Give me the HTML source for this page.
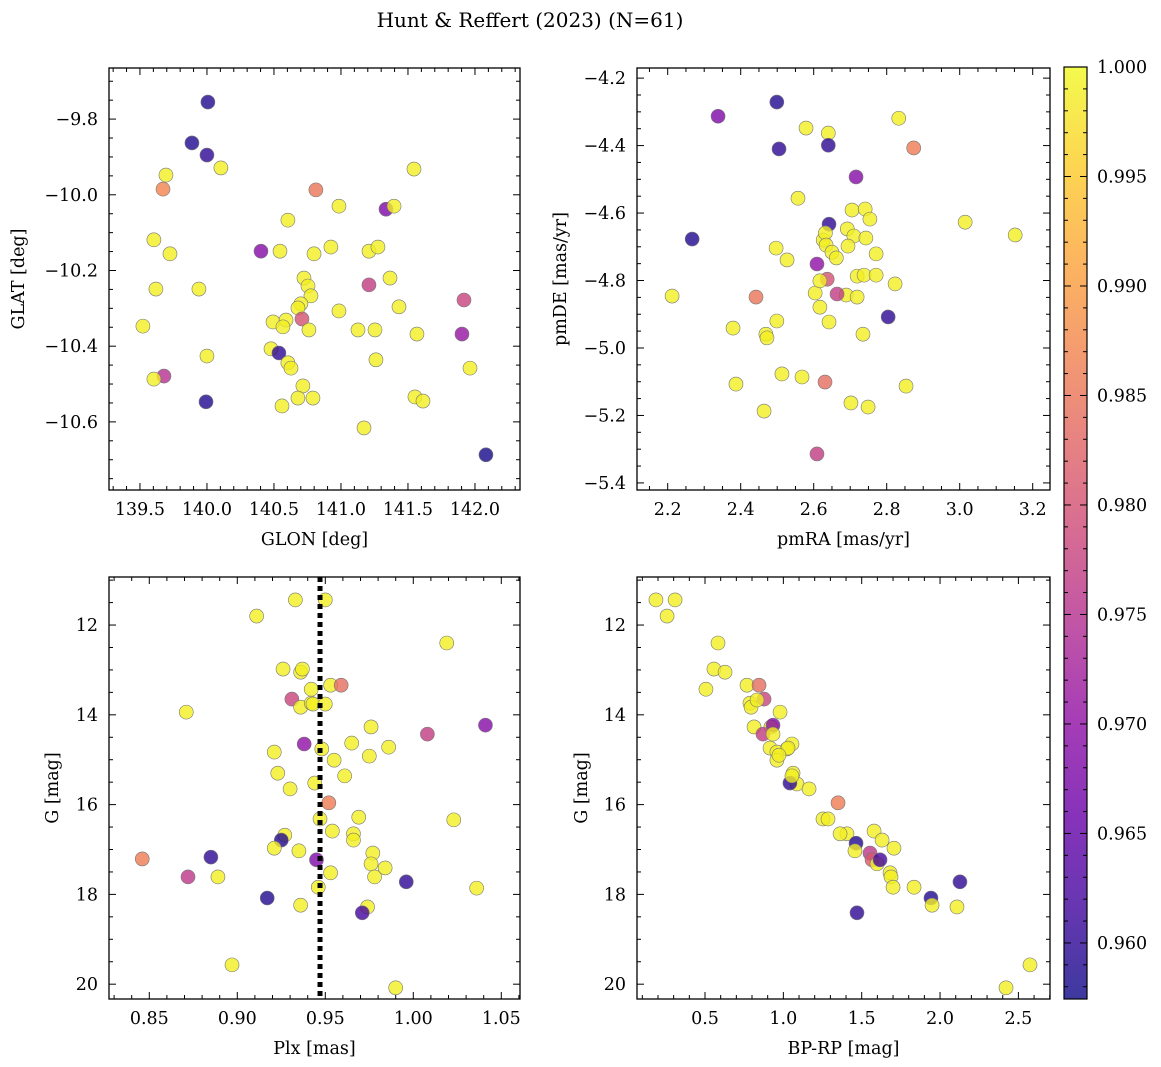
<!DOCTYPE html>
<html><head><meta charset="utf-8"><style>
html,body{margin:0;padding:0;background:#fff;}
svg{display:block;font-family:"DejaVu Serif","Liberation Serif",serif;}
</style></head><body>
<svg id="fig" xmlns="http://www.w3.org/2000/svg" width="1161" height="1067" viewBox="0 0 1161 1067">
<defs>
<linearGradient id="plasma" x1="0" y1="1" x2="0" y2="0">
<stop offset="0" stop-color="#0d0887"/><stop offset="0.1" stop-color="#41049d"/><stop offset="0.2" stop-color="#6a00a8"/><stop offset="0.3" stop-color="#8f0da4"/><stop offset="0.4" stop-color="#b12a90"/><stop offset="0.5" stop-color="#cc4778"/><stop offset="0.6" stop-color="#e16462"/><stop offset="0.7" stop-color="#f2844b"/><stop offset="0.8" stop-color="#fca636"/><stop offset="0.9" stop-color="#fcce25"/><stop offset="1" stop-color="#f0f921"/>
</linearGradient>
</defs>
<text x="530" y="27" font-size="20" text-anchor="middle">Hunt &amp; Reffert (2023) (N=61)</text>
</svg>
<script>
// Panel 1: GLON / GLAT
const glon=[140.007,139.888,140.000,140.104,139.694,139.672,140.813,140.985,141.336,141.396,141.545,140.604,139.604,139.724,140.403,140.545,140.799,140.925,141.209,141.276,141.366,140.724,140.754,140.776,139.619,139.940,141.209,140.701,140.679,140.985,141.433,141.918,139.522,140.493,140.590,140.567,140.709,140.761,141.127,141.254,141.567,141.903,140.478,140.537,140.000,140.604,140.627,141.261,141.963,139.679,139.604,140.716,140.679,140.791,141.552,141.612,139.993,140.560,141.172,142.082];
const glat=[-9.755,-9.863,-9.895,-9.929,-9.948,-9.985,-9.987,-10.030,-10.038,-10.030,-9.932,-10.067,-10.119,-10.156,-10.149,-10.149,-10.156,-10.138,-10.149,-10.138,-10.220,-10.220,-10.241,-10.267,-10.249,-10.249,-10.238,-10.288,-10.299,-10.307,-10.296,-10.278,-10.347,-10.336,-10.331,-10.349,-10.328,-10.357,-10.357,-10.357,-10.368,-10.368,-10.407,-10.418,-10.426,-10.444,-10.458,-10.436,-10.458,-10.479,-10.487,-10.505,-10.537,-10.537,-10.534,-10.545,-10.547,-10.558,-10.616,-10.687];
const prob1=[.959,.959,.960,.999,.999,.987,.985,.999,.968,.999,.999,.999,.999,.999,.969,.999,.999,.999,.999,.999,.999,.999,.999,.999,.999,.999,.977,.999,.999,.999,.999,.978,.999,.999,.999,.999,.980,.999,.999,.999,.999,.971,.999,.960,.999,.999,.999,.999,.999,.975,.999,.999,.999,.999,.999,.999,.959,.999,.999,.958];
// Panel 2: pmRA / pmDE
const pmra=[2.338,2.499,2.505,2.579,2.640,2.640,2.833,2.874,2.716,2.557,3.015,3.152,2.267,2.705,2.741,2.754,2.642,2.692,2.626,2.632,2.634,2.710,2.743,2.497,2.694,2.650,2.662,2.771,2.527,2.637,2.609,2.719,2.738,2.771,2.604,2.689,2.617,2.664,2.719,2.823,2.212,2.442,2.617,2.804,2.642,2.499,2.379,2.469,2.472,2.735,2.513,2.568,2.387,2.853,2.631,2.464,2.702,2.749,2.609];
const pmde=[-4.313,-4.271,-4.410,-4.348,-4.363,-4.399,-4.319,-4.407,-4.493,-4.556,-4.627,-4.665,-4.677,-4.591,-4.588,-4.618,-4.633,-4.647,-4.680,-4.659,-4.695,-4.668,-4.674,-4.704,-4.698,-4.716,-4.733,-4.721,-4.739,-4.796,-4.751,-4.787,-4.784,-4.784,-4.837,-4.843,-4.801,-4.840,-4.849,-4.810,-4.846,-4.849,-4.879,-4.908,-4.923,-4.920,-4.941,-4.959,-4.970,-4.959,-5.077,-5.086,-5.107,-5.113,-5.101,-5.187,-5.163,-5.175,-5.314];
const prob2=[.968,.959,.960,.999,.999,.960,.999,.986,.969,.999,.999,.999,.959,.999,.999,.999,.960,.999,.999,.999,.999,.999,.999,.999,.999,.999,.999,.999,.999,.980,.970,.999,.999,.999,.999,.999,.999,.977,.999,.999,.999,.985,.999,.960,.999,.999,.999,.999,.999,.999,.999,.999,.999,.999,.984,.999,.999,.999,.977];
// Panel 3: Plx / G
const plx=[0.911,0.933,0.950,1.019,0.926,0.936,0.937,0.931,0.953,0.959,0.942,0.936,0.871,0.942,0.943,0.950,0.976,0.938,1.008,1.041,0.948,0.921,0.965,0.986,0.955,0.975,0.923,0.930,0.961,0.944,0.952,0.947,0.969,1.023,0.954,0.966,0.966,0.927,0.925,0.921,0.935,0.977,0.945,0.976,0.846,0.885,0.872,0.889,0.953,0.978,0.984,0.946,0.996,1.036,0.917,0.936,0.974,0.971,0.897,0.990];
const gmag3=[11.80,11.44,11.44,12.40,12.98,13.05,12.98,13.65,13.34,13.34,13.43,13.83,13.94,13.74,13.76,13.76,14.27,14.65,14.43,14.23,14.76,14.83,14.63,14.72,15.01,14.92,15.30,15.65,15.36,15.52,15.96,16.32,16.28,16.34,16.59,16.65,16.79,16.68,16.79,16.97,17.03,17.08,17.23,17.32,17.21,17.17,17.61,17.61,17.52,17.61,17.41,17.84,17.72,17.86,18.08,18.24,18.28,18.41,19.57,20.08];
const prob3=[.999,.999,.999,.999,.999,.999,.999,.978,.999,.984,.999,.999,.999,.999,.999,.999,.999,.970,.977,.969,.999,.999,.999,.999,.999,.999,.999,.999,.999,.999,.986,.999,.999,.999,.999,.999,.999,.999,.959,.999,.999,.999,.968,.999,.986,.960,.976,.999,.999,.999,.999,.999,.960,.999,.959,.999,.999,.962,.999,.999];
const plxLine=[0.947];
// Panel 4: BP-RP / G
const bprp=[.187,.309,.258,.583,.557,.628,.506,.768,.845,.877,.787,.794,.832,.979,.813,.921,.934,.870,.934,1.055,.915,1.023,.959,1.030,.959,.972,1.062,1.087,1.164,1.042,1.055,1.349,1.253,1.285,1.406,1.362,1.579,1.630,1.706,1.464,1.553,1.566,1.598,1.617,1.681,1.687,1.700,1.834,1.457,1.470,2.127,1.942,1.949,2.108,2.574,2.421];
const gmag4=[11.44,11.44,11.80,12.40,12.98,13.05,13.43,13.34,13.34,13.65,13.74,13.83,13.67,13.94,14.27,14.27,14.23,14.43,14.43,14.65,14.74,14.76,14.83,14.74,15.01,14.90,15.30,15.54,15.65,15.52,15.36,15.96,16.32,16.32,16.65,16.65,16.59,16.79,16.97,16.86,17.08,17.23,17.32,17.23,17.52,17.61,17.84,17.84,17.03,18.41,17.72,18.08,18.24,18.28,19.57,20.08];
const prob4=[.999,.999,.999,.999,.999,.999,.999,.999,.984,.978,.999,.999,.999,.999,.999,.999,.969,.977,.999,.999,.999,.999,.999,.999,.999,.999,.999,.999,.999,.960,.999,.986,.999,.999,.999,.999,.999,.999,.999,.959,.976,.981,.999,.962,.999,.999,.999,.999,.999,.960,.960,.959,.999,.999,.999,.999];
const cbTicks=[0.960,0.965,0.970,0.975,0.980,0.985,0.990,0.995,1.000];

const NS="http://www.w3.org/2000/svg";
const svg=document.getElementById('fig');
function mk(tag,attrs,parent){const e=document.createElementNS(NS,tag);for(const k in attrs)e.setAttribute(k,attrs[k]);(parent||svg).appendChild(e);return e;}
const PL=[[13,8,135],[65,4,157],[106,0,168],[143,13,164],[177,42,144],[204,71,120],[225,100,98],[242,132,75],[252,166,54],[252,206,37],[240,249,33]];
const CMIN=0.95744,CMAX=1.0;
function cmap(v){let t=(v-CMIN)/(CMAX-CMIN);t=Math.max(0,Math.min(1,t))*10;const i=Math.min(9,Math.floor(t)),f=t-i;const a=PL[i],b=PL[i+1];return 'rgb('+a.map((c,k)=>Math.round(c+(b[k]-c)*f)).join(',')+')';}
function fmt(v,d){const s=Math.abs(v).toFixed(d);return (v<-1e-9?'\u2212':'')+s;}

function panel(o){
  const g=mk('g',{});
  
  
  const X=v=>o.L+(v-o.x0)/(o.x1-o.x0)*(o.R-o.L);
  const Y=v=>o.T+(v-o.y0)/(o.y1-o.y0)*(o.B-o.T);
  const pts=mk('g',{},g);
  
  
  o.xs.forEach((xv,i)=>{const c=mk('circle',{cx:X(xv),cy:Y(o.ys[i]),r:7,fill:cmap(o.cs[i]),'fill-opacity':0.8,stroke:'#777','stroke-width':0.6},pts);
    
    });
  if(o.extra)o.extra(g,X,Y);
  const fr=mk('rect',{x:o.L,y:o.T,width:o.R-o.L,height:o.B-o.T,fill:'none',stroke:'#000','stroke-width':1.3},g);
  
  
  const tk=mk('g',{stroke:'#000','stroke-width':1},g);
  const xlo=Math.min(o.x0,o.x1),xhi=Math.max(o.x0,o.x1),ylo=Math.min(o.y0,o.y1),yhi=Math.max(o.y0,o.y1);
  for(let k=Math.ceil(xlo/o.xmin-1e-6);k*o.xmin<=xhi+1e-9;k++){const v=k*o.xmin,px=X(v);const maj=Math.abs(v/o.xmaj-Math.round(v/o.xmaj))<1e-6;const l=maj?7:4;
    mk('line',{x1:px,x2:px,y1:o.B,y2:o.B-l},tk);mk('line',{x1:px,x2:px,y1:o.T,y2:o.T+l},tk);
    if(maj){const t=mk('text',{x:px,y:o.B+25,'font-size':17.5,'text-anchor':'middle'},g);t.textContent=fmt(v,o.xd);
      
      }}
  for(let k=Math.ceil(ylo/o.ymin-1e-6);k*o.ymin<=yhi+1e-9;k++){const v=k*o.ymin,py=Y(v);const maj=Math.abs(v/o.ymaj-Math.round(v/o.ymaj))<1e-6;const l=maj?7:4;
    mk('line',{y1:py,y2:py,x1:o.L,x2:o.L+l},tk);mk('line',{y1:py,y2:py,x1:o.R,x2:o.R-l},tk);
    if(maj){const t=mk('text',{x:o.L-11,y:py+6,'font-size':17.5,'text-anchor':'end'},g);t.textContent=fmt(v,o.yd);
      
      }}
  const xl=mk('text',{x:(o.L+o.R)/2,y:o.B+55,'font-size':17.5,'text-anchor':'middle'},g);xl.textContent=o.xlab;
  
  
  const yx=o.ylx,yy=(o.T+o.B)/2;
  const yl=mk('text',{x:yx,y:yy,'font-size':17.5,'text-anchor':'middle',transform:'rotate(-90 '+yx+' '+yy+')'},g);yl.textContent=o.ylab;
  
  
}

panel({name:'glon-glat-panel',L:109,R:520,T:68,B:490,x0:139.269,x1:142.336,y0:-9.665,y1:-10.780,xmaj:0.5,xmin:0.1,ymaj:0.2,ymin:0.05,xd:1,yd:1,xs:glon,ys:glat,cs:prob1,xlab:'GLON [deg]',ylab:'GLAT [deg]',ylx:24});
panel({name:'proper-motion-panel',L:637,R:1050,T:68,B:490,x0:2.2-(667.7-637)/365,x1:2.2+(1050-667.7)/365,y0:-4.170,y1:-5.421,xmaj:0.2,xmin:0.05,ymaj:0.2,ymin:0.05,xd:1,yd:1,xs:pmra,ys:pmde,cs:prob2,xlab:'pmRA [mas/yr]',ylab:'pmDE [mas/yr]',ylx:566});
panel({name:'parallax-panel',L:109,R:520,T:577,B:999,x0:0.85-(149.3-109)/1760,x1:0.85+(520-149.3)/1760,y0:10.93,y1:20.33,xmaj:0.05,xmin:0.01,ymaj:2,ymin:0.5,xd:2,yd:0,xs:plx,ys:gmag3,cs:prob3,xlab:'Plx [mas]',ylab:'G [mag]',ylx:58,
  extra:(g,X,Y)=>{plxLine.forEach(v=>{const l=mk('line',{x1:X(v),x2:X(v),y1:577,y2:999,stroke:'#000','stroke-width':5,'stroke-dasharray':'5,4'},g);
    
    });}});
panel({name:'cmd-panel',L:637,R:1050,T:577,B:999,x0:0.5-(705-637)/156.7,x1:0.5+(1050-705)/156.7,y0:10.93,y1:20.33,xmaj:0.5,xmin:0.1,ymaj:2,ymin:0.5,xd:1,yd:0,xs:bprp,ys:gmag4,cs:prob4,xlab:'BP-RP [mag]',ylab:'G [mag]',ylx:587});

const cb=mk('g',{});


const CT=67,CB=999,CL=1064,CR=1087;
mk('rect',{x:CL,y:CT,width:CR-CL,height:CB-CT,fill:'url(#plasma)','fill-opacity':0.8,stroke:'none'},cb);
mk('rect',{x:CL,y:CT,width:CR-CL,height:CB-CT,fill:'none',stroke:'#000','stroke-width':1.2},cb);
const CY=v=>CB-(v-CMIN)/(CMAX-CMIN)*(CB-CT);
for(let k=Math.ceil(CMIN/0.001);k*0.001<=CMAX+1e-9;k++){const v=k*0.001;const maj=k%5===0;const py=CY(v);
  mk('line',{x1:CR,x2:CR-(maj?7:4),y1:py,y2:py,stroke:'#000','stroke-width':1},cb);
  mk('line',{x1:CL,x2:CL+(maj?7:4),y1:py,y2:py,stroke:'#000','stroke-width':1},cb);}
cbTicks.forEach(v=>{const t=mk('text',{x:1097,y:CY(v)+6,'font-size':17.5},cb);t.textContent=v.toFixed(3);
  
  });
</script>
</body></html>
